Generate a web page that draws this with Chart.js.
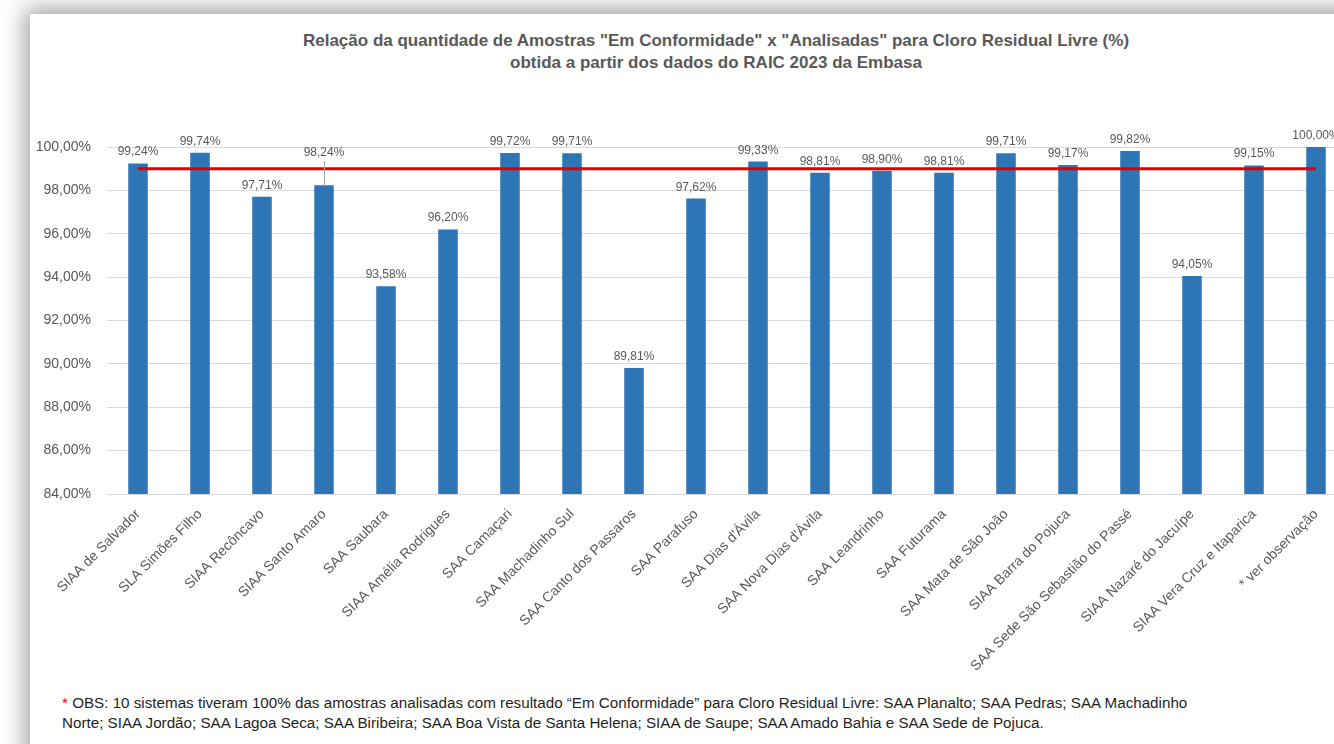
<!DOCTYPE html>
<html lang="pt-BR">
<head>
<meta charset="utf-8">
<title>Cloro Residual Livre - RAIC 2023</title>
<script src="https://cdn.jsdelivr.net/npm/chart.js@4.4.1/dist/chart.umd.min.js"></script>
<style>
  html, body { margin: 0; padding: 0; width: 1334px; height: 744px; overflow: hidden; background: #fff; }
  body { font-family: "Liberation Sans", Arial, sans-serif; }
  .cartao {
    position: absolute; left: 30px; top: 14px; width: 1400px; height: 800px;
    background: #fff; box-shadow: -5px -5px 22px rgba(0,0,0,0.38);
  }
  .titulo {
    position: absolute; left: 0; top: 16px; width: 1372px; text-align: center;
    font-weight: bold; font-size: 17px; line-height: 22px; color: #595959;
  }
  .grafico { position: absolute; left: 0; top: 0; width: 1330px; height: 666px; }
  .obs {
    position: absolute; left: 32px; top: 679px; width: 1250px;
    font-size: 15.2px; line-height: 20px; color: #1f1f1f;
  }
  .obs .ast { color: #e00000; }
</style>
</head>
<body>
<div class="cartao">
  <div class="titulo">Relação da quantidade de Amostras "Em Conformidade" x "Analisadas" para Cloro Residual Livre (%)<br>obtida a partir dos dados do RAIC 2023 da Embasa</div>
  <div class="grafico"><canvas id="chartCloro"></canvas></div>
  <div class="obs"><span class="ast">*</span> OBS: 10 sistemas tiveram 100% das amostras analisadas com resultado “Em Conformidade” para Cloro Residual Livre: SAA Planalto; SAA Pedras; SAA Machadinho<br>Norte; SIAA Jordão; SAA Lagoa Seca; SAA Biribeira; SAA Boa Vista de Santa Helena; SIAA de Saupe; SAA Amado Bahia e SAA Sede de Pojuca.</div>
</div>

<script>
  // Sistemas de abastecimento
  const sistemas = [
    'SIAA de Salvador', 'SLA Simões Filho', 'SIAA Recôncavo', 'SIAA Santo Amaro',
    'SAA Saubara', 'SIAA Amélia Rodrigues', 'SAA Camaçari', 'SAA Machadinho Sul',
    'SAA Canto dos Passaros', 'SAA Parafuso', 'SAA Dias d\'Ávila', 'SAA Nova Dias d\'Ávila',
    'SAA Leandrinho', 'SAA Futurama', 'SAA Mata de São João', 'SIAA Barra do Pojuca',
    'SAA Sede São Sebastião do Passé', 'SIAA Nazaré do Jacuípe', 'SIAA Vera Cruz e Itaparica',
    '* ver observação'
  ];

  // % de amostras em conformidade
  const conformidade = [
    99.24, 99.74, 97.71, 98.24, 93.58, 96.20, 99.72, 99.71, 89.81, 97.62,
    99.33, 98.81, 98.90, 98.81, 99.71, 99.17, 99.82, 94.05, 99.15, 100.00
  ];

  // linha de referência (%)
  const referencia = 99;

  const yMin = 84, yMax = 100, yPasso = 2;

  const fmtPct = v => v.toFixed(2).replace('.', ',') + '%';
  const FONTE = '"Liberation Sans", Arial, sans-serif';

  // rótulos de valor acima das barras
  const rotulosBarras = {
    id: 'rotulosBarras',
    afterDatasetsDraw(chart) {
      const ctx = chart.ctx;
      const meta = chart.getDatasetMeta(1);
      ctx.save();
      ctx.font = '12px ' + FONTE;
      ctx.fillStyle = '#595959';
      ctx.textAlign = 'center';
      ctx.textBaseline = 'alphabetic';
      meta.data.forEach((bar, i) => {
        // Santo Amaro fica com o rótulo mais alto e linha de chamada
        const extra = i === 3 ? 21 : 0;
        const y = bar.y - 8 - extra;
        if (extra) {
          ctx.strokeStyle = '#a6a6a6';
          ctx.lineWidth = 1;
          ctx.beginPath();
          ctx.moveTo(Math.round(bar.x) + 0.5, y + 5);
          ctx.lineTo(Math.round(bar.x) + 0.5, bar.y);
          ctx.stroke();
        }
        ctx.fillText(fmtPct(conformidade[i]), bar.x, y);
      });
      ctx.restore();
    }
  };

  new Chart(document.getElementById('chartCloro'), {
    data: {
      labels: sistemas,
      datasets: [
        {
          type: 'line',
          label: 'Referência',
          data: [
            { x: sistemas[0], y: referencia },
            { x: sistemas[sistemas.length - 1], y: referencia }
          ],
          borderColor: '#e00000',
          borderWidth: 3,
          pointRadius: 0,
          order: 0
        },
        {
          type: 'bar',
          label: 'Conformidade',
          data: conformidade,
          backgroundColor: '#2e75b6',
          borderWidth: 0,
          barPercentage: 0.315,
          categoryPercentage: 1,
          order: 1
        }
      ]
    },
    options: {
      responsive: true,
      maintainAspectRatio: false,
      animation: false,
      layout: { padding: { top: 133, right: 13, left: 0, bottom: 0 } },
      plugins: {
        legend: { display: false },
        tooltip: { enabled: false }
      },
      scales: {
        x: {
          grid: { display: false, drawTicks: false },
          border: { display: true, color: '#d9d9d9' },
          ticks: {
            color: '#595959',
            font: { family: FONTE, size: 14 },
            minRotation: 45,
            maxRotation: 45,
            autoSkip: false,
            padding: 12
          },
          afterFit(scale) { scale.height = 186; }
        },
        y: {
          min: yMin,
          max: yMax,
          grid: { color: '#d9d9d9', drawTicks: false },
          border: { display: false },
          ticks: {
            stepSize: yPasso,
            color: '#595959',
            font: { family: FONTE, size: 14 },
            padding: 16,
            callback: v => fmtPct(v)
          },
          afterFit(scale) { scale.width = 77; }
        }
      }
    },
    plugins: [rotulosBarras]
  });
</script>
</body>
</html>
